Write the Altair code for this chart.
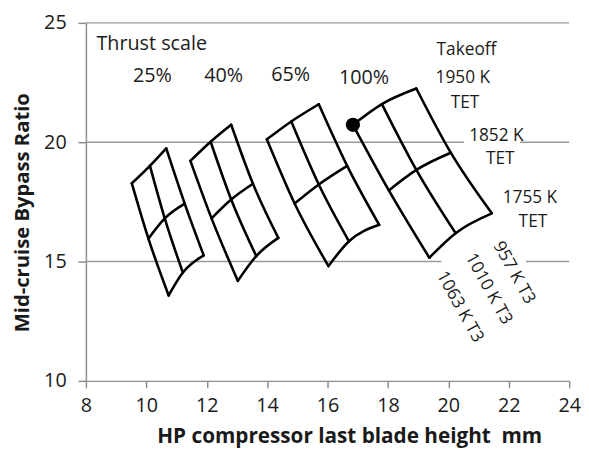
import altair as alt
import pandas as pd

# ---------------- data ----------------
thrust = ["25%", "40%", "65%", "100%"]
tet = [1950, 1852, 1755]          # rows  (TET lines)
t3 = [957, 1010, 1063]            # cols  (T3 lines)

# HP compressor last blade height (mm) and mid-cruise BPR, rows = TET, cols = T3
x_25 = [[10.66, 10.12, 9.52], [11.27, 10.61, 10.07], [11.90, 11.21, 10.74]]
y_25 = [[19.74, 19.01, 18.28], [17.43, 16.81, 15.96], [15.26, 14.54, 13.58]]
x_40 = [[12.81, 12.13, 11.46], [13.53, 12.81, 12.16], [14.37, 13.64, 13.03]]
y_40 = [[20.73, 20.02, 19.22], [18.26, 17.60, 16.81], [15.99, 15.23, 14.19]]
x_65 = [[15.71, 14.80, 13.99], [16.65, 15.71, 14.91], [17.71, 16.71, 16.03]]
y_65 = [[21.59, 20.87, 20.12], [19.01, 18.23, 17.43], [16.54, 15.85, 14.81]]
x_100 = [[18.94, 17.80, 16.84], [20.08, 18.94, 18.03], [21.44, 20.24, 19.37]]
y_100 = [[22.25, 21.60, 20.73], [19.56, 18.84, 17.98], [17.02, 16.19, 15.16]]

x_ticks = [8, 10, 12, 14, 16, 18, 20, 22, 24]
y_ticks = [10, 15, 20, 25]
x_title = "HP compressor last blade height\u00a0 mm"
y_title = "Mid-cruise Bypass Ratio"

rows = []
for th, xs, ys in zip(thrust, [x_25, x_40, x_65, x_100], [y_25, y_40, y_65, y_100]):
    for i, tv in enumerate(tet):
        for j, tv3 in enumerate(t3):
            rows.append(dict(thrust=th, tet=tv, t3=tv3, x=xs[i][j], y=ys[i][j]))
df = pd.DataFrame(rows)

# gridline segments (gaps where labels sit)
grid = pd.DataFrame({
    "y": [25, 20, 20, 15, 15],
    "x": [8, 8, 22.38, 8, 22.57],
    "x1": [24, 20.52, 24, 19.77, 24],
})

big_labels = pd.DataFrame({
    "text": ["Thrust scale", "25%", "40%", "65%", "100%"],
    "x": [10.18, 10.20, 12.56, 14.78, 17.21],
    "y": [24.12, 22.77, 22.77, 22.81, 22.69],
})
side_labels = pd.DataFrame({
    "text": ["Takeoff", "1950 K", "TET", "1852 K", "TET", "1755 K", "TET"],
    "x": [20.60, 20.48, 20.55, 21.59, 21.72, 22.70, 22.80],
    "y": [23.84, 22.69, 21.66, 20.25, 19.30, 17.65, 16.66],
})
t3_labels = pd.DataFrame({
    "text": ["957 K T3", "1010 K T3", "1063 K T3"],
    "x": [22.17, 21.33, 20.38],
    "y": [14.53, 13.85, 13.10],
})

# ---------------- styling ----------------
FONT = "Open Sans"
INK = "#1a1a1a"
AX = "#8c8c8c"

xscale = alt.Scale(domain=[8, 24], nice=False, zero=False)
yscale = alt.Scale(domain=[10, 25], nice=False, zero=False)

xaxis = alt.Axis(values=x_ticks, title=x_title, grid=False,
                 domainColor=AX, domainWidth=1.5, tickColor=AX, tickWidth=1.5, tickSize=7,
                 labelFont=FONT, labelFontSize=20, labelColor=INK, labelPadding=8,
                 labelFlush=False, labelOverlap=False,
                 titleFont=FONT, titleFontSize=21, titleFontWeight="bold", titleColor=INK,
                 titleX=267, titleY=62, titleBaseline="alphabetic", titleAlign="center")
yaxis = alt.Axis(values=y_ticks, title=y_title, grid=False,
                 domainColor=AX, domainWidth=1.5, tickColor=AX, tickWidth=1.5, tickSize=8,
                 labelFont=FONT, labelFontSize=20, labelColor=INK, labelPadding=12,
                 labelOverlap=False, labelFlush=False,
                 titleFont=FONT, titleFontSize=20.5, titleFontWeight="bold", titleColor=INK,
                 titleX=-64, titleY=192, titleBaseline="middle", titleAlign="center")

X = alt.X("x:Q", scale=xscale, axis=xaxis, title=x_title)
Y = alt.Y("y:Q", scale=yscale, axis=yaxis, title=y_title)

gridlines = alt.Chart(grid).mark_rule(color="#9a9a9a", strokeWidth=1.5).encode(
    x=X, x2="x1:Q", y=Y,
)

base = alt.Chart(df)
tet_lines = base.mark_line(color="black", strokeWidth=2.6, interpolate="monotone",
                           strokeCap="round").encode(x=X, y=Y, detail=["thrust:N", "tet:N"])
t3_lines = base.mark_line(color="black", strokeWidth=2.6, interpolate="monotone",
                          strokeCap="round").encode(x=X, y=Y, detail=["thrust:N", "t3:N"])
dot = base.transform_filter(
    (alt.datum.thrust == "100%") & (alt.datum.tet == 1950) & (alt.datum.t3 == 1063)
).mark_circle(size=210, color="black", opacity=1).encode(x=X, y=Y)

big_text = alt.Chart(big_labels).mark_text(font=FONT, fontSize=20, color=INK,
                                           align="center", baseline="middle").encode(
    x=X, y=Y, text="text:N")
side_text = alt.Chart(side_labels).mark_text(font=FONT, fontSize=17.5, color=INK,
                                             align="center", baseline="middle").encode(
    x=X, y=Y, text="text:N")
t3_text = alt.Chart(t3_labels).mark_text(font=FONT, fontSize=17.5, color=INK, angle=61,
                                         align="center", baseline="middle").encode(
    x=X, y=Y, text="text:N")

chart = alt.layer(gridlines, tet_lines, t3_lines, dot, big_text, side_text, t3_text).properties(
    width=490, height=363,
    autosize=alt.AutoSizeParams(type="none"),
    padding={"left": 79, "top": 12, "right": 12, "bottom": 67},
    background="white",
).configure_view(stroke=None)

chart.save("out.html", embed_options={"renderer": "svg", "actions": False})
